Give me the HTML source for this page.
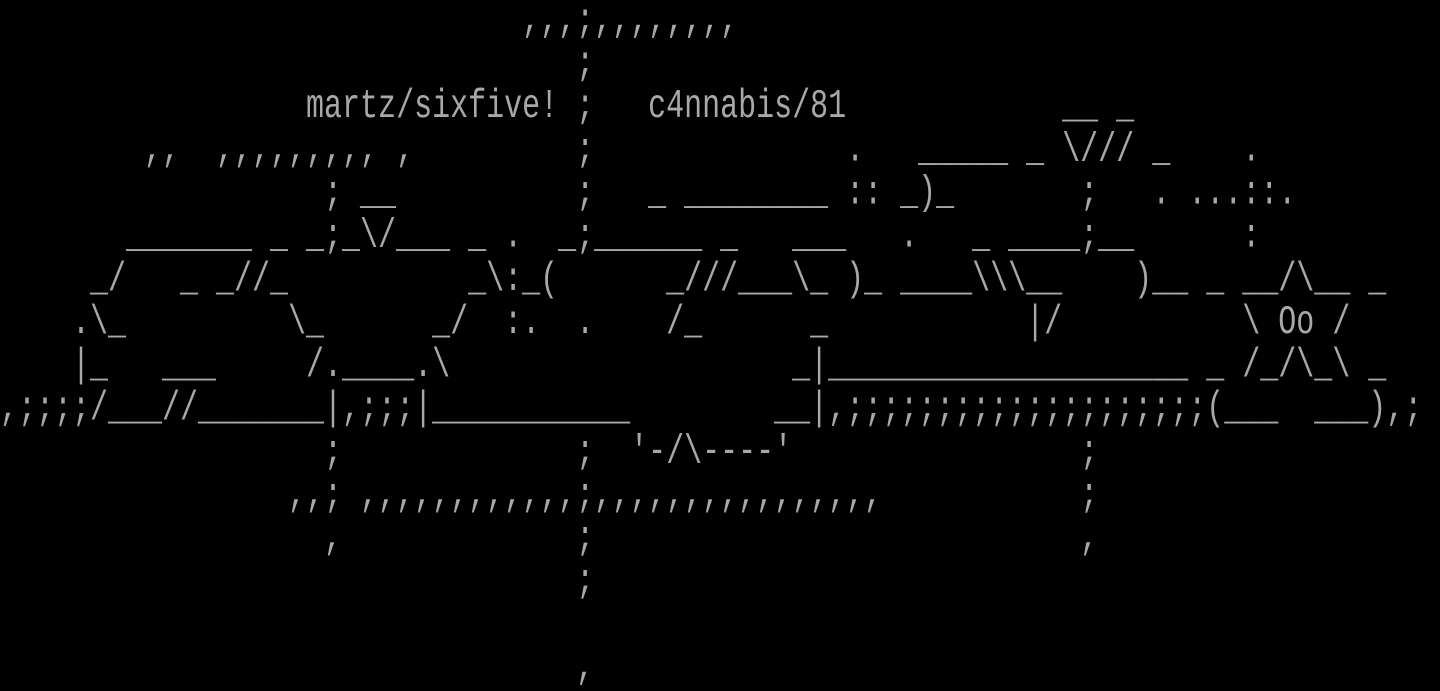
<!DOCTYPE html>
<html><head><meta charset="utf-8"><style>
html,body{margin:0;padding:0;background:#000;width:1440px;height:690px;overflow:hidden}
pre{margin:0;position:absolute;left:0;top:0;font-family:"Liberation Mono",monospace;font-size:30px;line-height:32px;color:#a8a8a8;transform:scaleY(1.3477);transform-origin:0 0;white-space:pre}
</style></head><body><pre>                             ,,,;,,,,,,,,
                                ;
                 martz/sixfive! ;   c4nnabis/81            __ _
        ,,  ,,,,,,,,, ,         ;              .   _____ _ \/// _    .
                  ; __          ;   _ ________ :: _)_       ;   . ...::.
       _______ _ _;_\/___ _ .  _;______ _   ___   .   _ ____;__      :
     _/   _ _//_          _\:_(      _///___\_ )_ ____\\\__    )__ _ __/\__ _
    .\_         \_      _/  :.  .    /_      _           |/          \ Oo /
    |_   ___     /.____.\                   _|____________________ _ /_/\_\ _
,;;;;/___//_______|,;;;|___________        __|,;;;;;;;;;;;;;;;;;;;;(___  ___),;
                  ;             ;  '-/\----'                ;
                ,,; ,,,,,,,,,,,,;,,,,,,,,,,,,,,,,           ;
                  ,             ;                           ,
                                ;

                                ,</pre></body></html>
